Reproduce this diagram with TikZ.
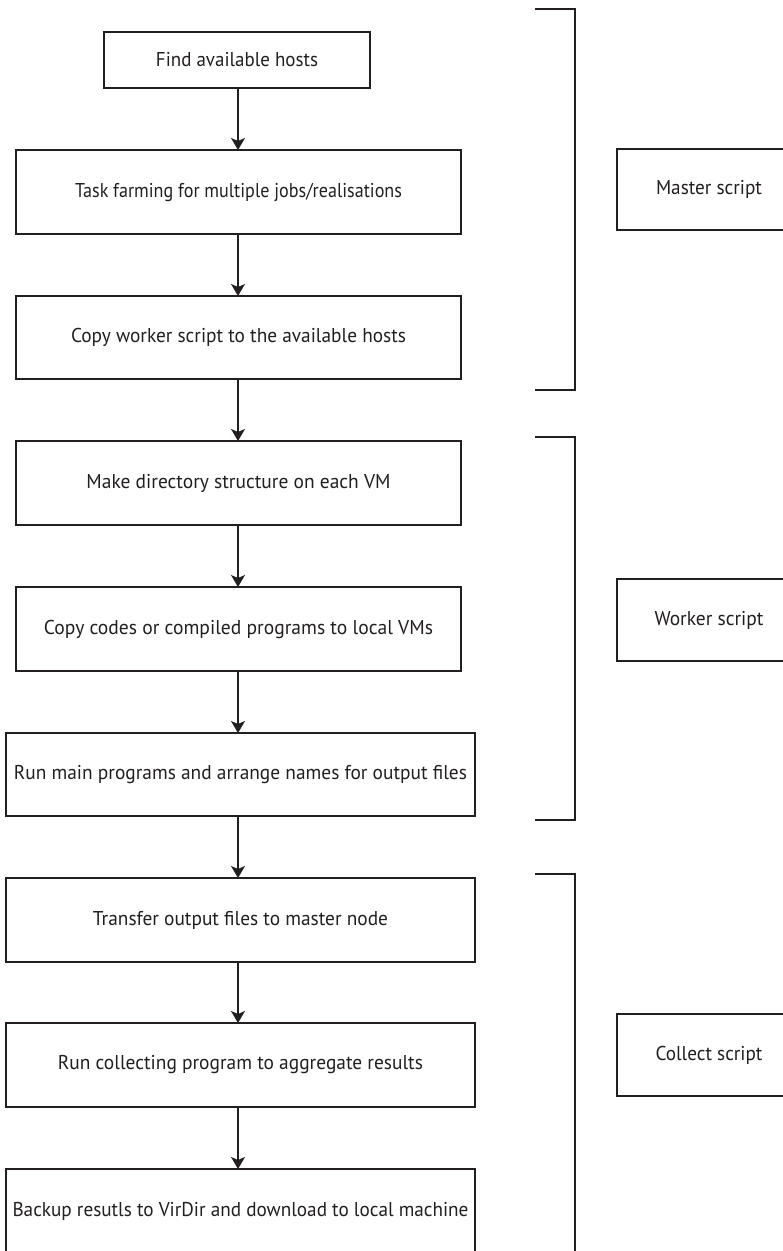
\documentclass[tikz,border=0pt]{standalone}
\usepackage{fontspec}
\setmainfont{PT Sans}
\usetikzlibrary{arrows.meta}
\definecolor{ink}{RGB}{35,31,32}
\newcommand{\fitw}[2]{\resizebox{#1pt}{\height}{#2}}
\begin{document}
\begin{tikzpicture}[x=1pt,y=-1pt,
  box/.style={draw=ink,line width=1.3pt,inner sep=0pt,outer sep=0pt,text=ink,font=\fontsize{20}{24}\selectfont},
  conn/.style={draw=ink,line width=1.3pt,-{Stealth[length=12pt,width=14pt,inset=3pt]}},
  brk/.style={draw=ink,line width=1.3pt}]
\useasboundingbox (0,0) rectangle (783,1251);
\clip (0,0) rectangle (783,1251);
\fill[white] (0,0) rectangle (783,1251);

% left column
\node[box,minimum width=266pt,minimum height=56pt] (b1) at (237,60) {\fitw{162}{Find available hosts}};
\node[box,minimum width=445pt,minimum height=84pt] (b2) at (238.5,192) {\fitw{327}{Task farming for multiple jobs/realisations}};
\node[box,minimum width=445pt,minimum height=83pt] (b3) at (238.5,337.5) {\fitw{335}{Copy worker script to the available hosts}};
\node[box,minimum width=445pt,minimum height=84pt] (b4) at (238.5,483) {\fitw{304}{Make directory structure on each VM}};
\node[box,minimum width=445pt,minimum height=84pt] (b5) at (238.5,629) {\fitw{389}{Copy codes or compiled programs to local VMs}};
\node[box,minimum width=469pt,minimum height=83pt] (b6) at (240.5,774.5) {\fitw{453}{Run main programs and arrange names for output files}};
\node[box,minimum width=469pt,minimum height=84pt] (b7) at (240.5,920) {\fitw{295}{Transfer output files to master node}};
\node[box,minimum width=469pt,minimum height=84pt] (b8) at (240.5,1065) {\fitw{365}{Run collecting program to aggregate results}};
\node[box,minimum width=469pt,minimum height=84pt] (b9) at (240.5,1211) {\fitw{456}{Backup resutls to VirDir and download to local machine}};

% arrows
\coordinate (ax) at (238,0);
\draw[conn] (b1.south -| ax) -- (b2.north -| ax);
\draw[conn] (b2.south -| ax) -- (b3.north -| ax);
\draw[conn] (b3.south -| ax) -- (b4.north -| ax);
\draw[conn] (b4.south -| ax) -- (b5.north -| ax);
\draw[conn] (b5.south -| ax) -- (b6.north -| ax);
\draw[conn] (b6.south -| ax) -- (b7.north -| ax);
\draw[conn] (b7.south -| ax) -- (b8.north -| ax);
\draw[conn] (b8.south -| ax) -- (b9.north -| ax);

% brackets
\coordinate (mt) at (535,9);
\coordinate (mb) at (535,390);
\coordinate (wt) at (535,437);
\coordinate (wb) at (535,820);
\coordinate (ct) at (535,874);
\draw[brk] (mt) -- ++(40,0) |- (mb);
\draw[brk] (wt) -- ++(40,0) |- (wb);
\draw[brk] (ct) -- ++(40,0) -- ++(0,400);

% script labels
\node[box,minimum width=184pt,minimum height=81pt] (ms) at (709,189.5) {\fitw{106}{Master script}};
\node[box,minimum width=184pt,minimum height=82pt] (ws) at (709,620) {\fitw{109}{Worker script}};
\node[box,minimum width=184pt,minimum height=82pt] (cs) at (709,1055) {\fitw{107}{Collect script}};
\end{tikzpicture}
\end{document}
